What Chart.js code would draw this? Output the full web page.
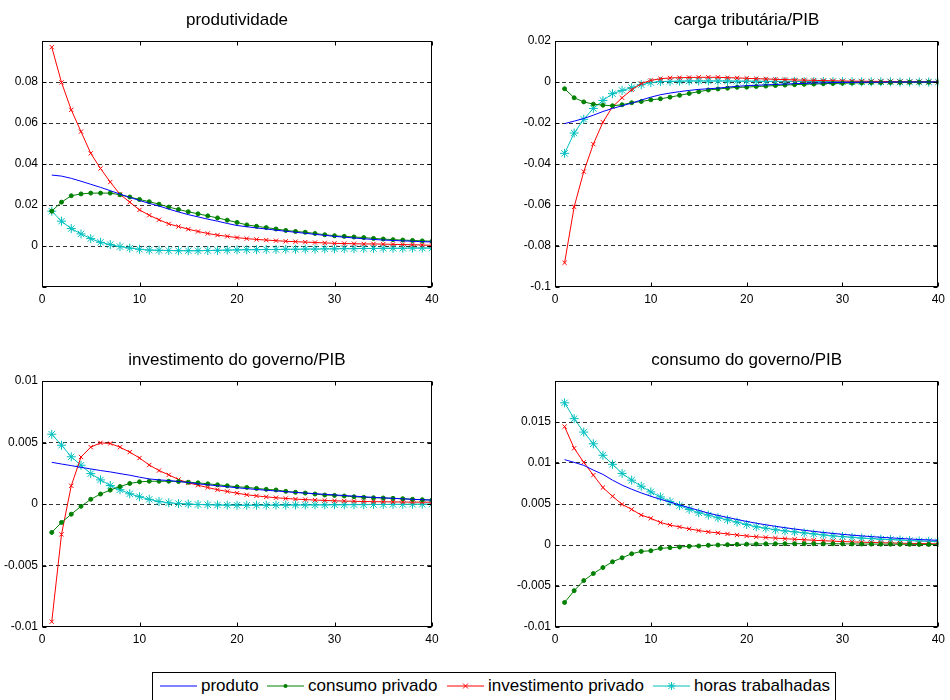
<!DOCTYPE html>
<html>
<head>
<meta charset="utf-8">
<script src="https://cdn.jsdelivr.net/npm/chart.js@4.4.0/dist/chart.umd.min.js"></script>
<style>
  body { margin: 0; background: #fff; width: 950px; height: 700px; overflow: hidden; position: relative;
         font-family: "Liberation Sans", Arial, sans-serif; }
  canvas { position: absolute; }
  #legenda { position: absolute; left: 152px; top: 672px; width: 684px; height: 34px;
             border: 1px solid #000; box-sizing: border-box; font-size: 17px; color: #000; white-space: nowrap; }
  #legenda .item { position: absolute; top: 3px; display: flex; align-items: center; }
  #legenda svg { margin-right: 4px; }
</style>
</head>
<body>
<canvas id="g1" width="460" height="310" style="left:0;top:0"></canvas>
<canvas id="g2" width="450" height="310" style="left:500px;top:0"></canvas>
<canvas id="g3" width="460" height="310" style="left:0;top:340px"></canvas>
<canvas id="g4" width="450" height="310" style="left:500px;top:340px"></canvas>
<div id="legenda"></div>
<script>
// periodos (trimestres)
const periodos = [1,2,3,4,5,6,7,8,9,10,11,12,13,14,15,16,17,18,19,20,21,22,23,24,25,26,27,28,29,30,31,32,33,34,35,36,37,38,39,40];
const nomes = ["produto", "consumo privado", "investimento privado", "horas trabalhadas"];

// choque: produtividade
const prodProduto = [0.0346,0.0341,0.0330,0.0316,0.0301,0.0286,0.0270,0.0253,0.0237,0.0222,0.0208,0.0195,0.0180,0.0166,0.0153,0.0142,0.0131,0.0121,0.0110,0.0100,0.0094,0.0088,0.0083,0.0077,0.0072,0.0067,0.0062,0.0057,0.0052,0.0047,0.0043,0.0039,0.0035,0.0032,0.0029,0.0027,0.0025,0.0023,0.0021,0.0020];
const prodConsumo = [0.0170,0.0214,0.0245,0.0254,0.0258,0.0258,0.0258,0.0250,0.0239,0.0227,0.0216,0.0204,0.0190,0.0178,0.0167,0.0157,0.0147,0.0137,0.0126,0.0115,0.0103,0.0096,0.0090,0.0083,0.0076,0.0071,0.0067,0.0061,0.0055,0.0050,0.0047,0.0044,0.0041,0.0037,0.0034,0.0031,0.0029,0.0027,0.0025,0.0023];
const prodInvest = [0.0970,0.0798,0.0664,0.0558,0.0452,0.0378,0.0312,0.0252,0.0214,0.0176,0.0150,0.0128,0.0108,0.0095,0.0082,0.0071,0.0061,0.0053,0.0047,0.0041,0.0036,0.0032,0.0029,0.0026,0.0023,0.0021,0.0019,0.0017,0.0015,0.0013,0.0012,0.0011,0.0010,0.0010,0.0009,0.0008,0.0007,0.0006,0.0005,0.0003];
const prodHoras = [0.0170,0.0121,0.0085,0.0059,0.0036,0.0018,0.0007,-0.0003,-0.0010,-0.0016,-0.0020,-0.0021,-0.0022,-0.0023,-0.0023,-0.0023,-0.0022,-0.0021,-0.0020,-0.0019,-0.0018,-0.0018,-0.0017,-0.0017,-0.0016,-0.0016,-0.0015,-0.0015,-0.0014,-0.0014,-0.0013,-0.0013,-0.0012,-0.0012,-0.0011,-0.0011,-0.0011,-0.0010,-0.0010,-0.0010];

// choque: carga tributaria/PIB
const cargaProduto = [-0.0203,-0.0191,-0.0178,-0.0162,-0.0144,-0.0129,-0.0116,-0.0103,-0.0088,-0.0074,-0.0062,-0.0054,-0.0047,-0.0041,-0.0036,-0.0033,-0.0030,-0.0025,-0.0021,-0.0018,-0.0016,-0.0014,-0.0012,-0.0010,-0.0008,-0.0007,-0.0005,-0.0004,-0.0003,-0.0002,-0.0002,-0.0001,-0.0001,-0.0001,0,0,0,0,0,0];
const cargaConsumo = [-0.0033,-0.0077,-0.0097,-0.0108,-0.0113,-0.0116,-0.0111,-0.0101,-0.0095,-0.0087,-0.0082,-0.0074,-0.0065,-0.0056,-0.0047,-0.0039,-0.0034,-0.0030,-0.0026,-0.0025,-0.0022,-0.0020,-0.0017,-0.0015,-0.0013,-0.0011,-0.0010,-0.0008,-0.0007,-0.0006,-0.0005,-0.0004,-0.0003,-0.0003,-0.0002,-0.0002,-0.0001,-0.0001,-0.0001,0];
const cargaInvest = [-0.0882,-0.0609,-0.0437,-0.0303,-0.0196,-0.0121,-0.0077,-0.0038,-0.0008,0.0008,0.0016,0.0020,0.0021,0.0022,0.0023,0.0023,0.0023,0.0021,0.0020,0.0018,0.0016,0.0015,0.0013,0.0012,0.0010,0.0009,0.0008,0.0007,0.0006,0.0005,0.0004,0.0004,0.0003,0.0003,0.0002,0.0002,0.0001,0.0001,0.0001,0];
const cargaHoras = [-0.0348,-0.0249,-0.0182,-0.0129,-0.0090,-0.0057,-0.0041,-0.0028,-0.0013,-0.0003,0.0002,0.0003,0.0004,0.0005,0.0005,0.0005,0.0005,0.0005,0.0004,0.0004,0.0004,0.0003,0.0003,0.0003,0.0003,0.0002,0.0002,0.0002,0.0002,0.0002,0.0001,0.0001,0.0001,0.0001,0.0001,0,0,0,0,0];

// choque: investimento do governo/PIB
const invgProduto = [0.00339,0.00325,0.00312,0.00298,0.00285,0.00272,0.00261,0.00247,0.00234,0.00218,0.00204,0.00196,0.00191,0.00183,0.00175,0.00164,0.00156,0.00148,0.00140,0.00132,0.00125,0.00118,0.00112,0.00106,0.00100,0.00094,0.00089,0.00084,0.00079,0.00074,0.00069,0.00064,0.00059,0.00054,0.00050,0.00046,0.00042,0.00038,0.00035,0.00032];
const invgConsumo = [-0.00231,-0.00150,-0.00083,-0.00019,0.00038,0.00081,0.00113,0.00142,0.00167,0.00180,0.00185,0.00185,0.00185,0.00183,0.00177,0.00172,0.00164,0.00156,0.00148,0.00140,0.00135,0.00127,0.00119,0.00114,0.00103,0.00095,0.00089,0.00081,0.00073,0.00070,0.00065,0.00059,0.00054,0.00051,0.00049,0.00046,0.00043,0.00038,0.00035,0.00032];
const invgInvest = [-0.00957,-0.00247,0.00148,0.00382,0.00462,0.00497,0.00492,0.00462,0.00422,0.00374,0.00317,0.00272,0.00237,0.00199,0.00172,0.00153,0.00134,0.00116,0.00102,0.00088,0.00075,0.00066,0.00058,0.00051,0.00045,0.00040,0.00036,0.00032,0.00029,0.00026,0.00024,0.00022,0.00020,0.00019,0.00018,0.00017,0.00016,0.00015,0.00015,0.00014];
const invgHoras = [0.00567,0.00478,0.00384,0.00315,0.00247,0.00196,0.00150,0.00116,0.00083,0.00059,0.00038,0.00020,0.00010,0.00003,0.00000,-0.00004,-0.00006,-0.00008,-0.00009,-0.00010,-0.00010,-0.00010,-0.00010,-0.00009,-0.00009,-0.00008,-0.00008,-0.00007,-0.00007,-0.00006,-0.00006,-0.00005,-0.00005,-0.00004,-0.00004,-0.00003,-0.00003,-0.00002,-0.00002,-0.00001];

// choque: consumo do governo/PIB
const consgProduto = [0.01041,0.01008,0.00971,0.00914,0.00861,0.00791,0.00730,0.00680,0.00635,0.00594,0.00557,0.00525,0.00488,0.00455,0.00422,0.00389,0.00361,0.00336,0.00311,0.00287,0.00266,0.00246,0.00228,0.00211,0.00195,0.00180,0.00166,0.00153,0.00141,0.00130,0.00120,0.00111,0.00102,0.00094,0.00087,0.00080,0.00073,0.00067,0.00062,0.00056];
const consgConsumo = [-0.00701,-0.00557,-0.00434,-0.00348,-0.00275,-0.00205,-0.00156,-0.00107,-0.00078,-0.00070,-0.00041,-0.00033,-0.00025,-0.00016,-0.00012,-0.00004,0.00000,0.00004,0.00008,0.00010,0.00012,0.00014,0.00015,0.00016,0.00016,0.00016,0.00016,0.00015,0.00015,0.00014,0.00013,0.00012,0.00011,0.00010,0.00010,0.00009,0.00008,0.00007,0.00006,0.00005];
const consgInvest = [0.01443,0.01180,0.01008,0.00852,0.00701,0.00594,0.00496,0.00434,0.00365,0.00325,0.00275,0.00243,0.00220,0.00197,0.00176,0.00160,0.00148,0.00135,0.00122,0.00110,0.00100,0.00092,0.00084,0.00077,0.00070,0.00064,0.00058,0.00052,0.00047,0.00042,0.00038,0.00034,0.00031,0.00028,0.00025,0.00022,0.00020,0.00018,0.00016,0.00014];
const consgHoras = [0.01734,0.01541,0.01377,0.01234,0.01094,0.00984,0.00873,0.00791,0.00717,0.00648,0.00586,0.00529,0.00480,0.00434,0.00393,0.00365,0.00332,0.00307,0.00279,0.00250,0.00222,0.00205,0.00186,0.00172,0.00160,0.00148,0.00135,0.00123,0.00111,0.00102,0.00094,0.00084,0.00078,0.00071,0.00066,0.00061,0.00054,0.00049,0.00045,0.00040];

// rotulos do eixo y de cada painel
const rotulosY1 = [0, 0.02, 0.04, 0.06, 0.08];
const rotulosY2 = [-0.1, -0.08, -0.06, -0.04, -0.02, 0, 0.02];
const rotulosY3 = [-0.01, -0.005, 0, 0.005, 0.01];
const rotulosY4 = [-0.01, -0.005, 0, 0.005, 0.01, 0.015];
const rotulosX = [0, 10, 20, 30, 40];

const cores = ["#0000ff", "#008000", "#ff0000", "#00bfbf"];
const marcas = [false, "circle", "crossRot", "star"];
const raios = [0, 2, 3, 4.5];
const fonte = "'Liberation Sans', Arial, sans-serif";

// caixa fechada + tiques para dentro (estilo matlab)
const caixa = {
  id: "caixa",
  afterDraw(chart) {
    const c = chart.ctx, a = chart.chartArea;
    const l = Math.round(a.left) + 0.5, r = Math.round(a.right) - 0.5;
    const t = Math.round(a.top) + 0.5, b = Math.round(a.bottom) - 0.5;
    c.save();
    c.strokeStyle = "#000";
    c.lineWidth = 1;
    c.strokeRect(l, t, r - l, b - t);
    c.beginPath();
    chart.scales.x.ticks.forEach(tk => {
      const px = Math.round(chart.scales.x.getPixelForValue(tk.value)) + 0.5;
      c.moveTo(px, t); c.lineTo(px, t + 4);
      c.moveTo(px, b); c.lineTo(px, b - 4);
    });
    chart.scales.y.ticks.forEach(tk => {
      const py = Math.round(chart.scales.y.getPixelForValue(tk.value)) + 0.5;
      c.moveTo(l, py); c.lineTo(l + 4, py);
      c.moveTo(r, py); c.lineTo(r - 4, py);
    });
    c.stroke();
    c.restore();
  }
};

function perto(a, b) { return Math.abs(a - b) < 1e-9; }

function painel(id, titulo, series, yMin, yMax, passo, rotulosY, largY, dir) {
  const datasets = series.map((s, k) => ({
    label: nomes[k],
    data: periodos.map((p, i) => ({ x: p, y: s[i] })),
    borderColor: cores[k],
    backgroundColor: cores[k],
    borderWidth: 1,
    pointStyle: marcas[k],
    pointRadius: raios[k],
    pointBorderWidth: 1,
    pointBorderColor: cores[k],
    pointBackgroundColor: cores[k],
    tension: 0
  }));

  new Chart(document.getElementById(id), {
    type: "line",
    data: { datasets: datasets },
    options: {
      responsive: false,
      animation: false,
      layout: { padding: { left: 0, right: dir, top: 0, bottom: 0 } },
      plugins: {
        legend: { display: false },
        tooltip: { enabled: false },
        title: {
          display: true, text: titulo, fullSize: false, color: "#000",
          font: { family: fonte, size: 17, weight: "normal" },
          padding: { top: 10, bottom: 10.6 }
        }
      },
      scales: {
        x: {
          type: "linear", min: 0, max: 40,
          afterBuildTicks: sc => { sc.ticks = rotulosX.map(v => ({ value: v })); },
          afterFit: sc => { sc.height = 23; },
          grid: { display: false, drawTicks: false },
          border: { display: false },
          ticks: { color: "#000", padding: 5, maxRotation: 0, font: { family: fonte, size: 12 } }
        },
        y: {
          min: yMin, max: yMax,
          ticks: {
            stepSize: passo, color: "#000", padding: 4,
            font: { family: fonte, size: 12 },
            callback: v => rotulosY.some(r => perto(r, v)) ? String(parseFloat(v.toFixed(4))) : ""
          },
          afterFit: sc => { sc.width = largY; },
          grid: {
            drawTicks: false, lineWidth: 1,
            color: c => (perto(c.tick.value, yMin) || perto(c.tick.value, yMax)) ? "rgba(0,0,0,0)" : "#333"
          },
          border: { display: false, dash: [4, 3] }
        }
      }
    },
    plugins: [caixa]
  });
}

painel("g1", "produtividade", [prodProduto, prodConsumo, prodInvest, prodHoras], -0.02, 0.1, 0.02, rotulosY1, 42, 28);
painel("g2", "carga tributária/PIB", [cargaProduto, cargaConsumo, cargaInvest, cargaHoras], -0.1, 0.02, 0.02, rotulosY2, 55, 4);
painel("g3", "investimento do governo/PIB", [invgProduto, invgConsumo, invgInvest, invgHoras], -0.01, 0.01, 0.005, rotulosY3, 42, 28);
painel("g4", "consumo do governo/PIB", [consgProduto, consgConsumo, consgInvest, consgHoras], -0.01, 0.02, 0.005, rotulosY4, 55, 4);

// legenda comum
const posLegenda = [7, 114, 294, 500];
const leg = document.getElementById("legenda");
nomes.forEach((n, k) => {
  const it = document.createElement("div");
  it.className = "item";
  it.style.left = posLegenda[k] + "px";
  let m = "";
  if (marcas[k] === "circle") m = '<circle cx="18.5" cy="9" r="2" fill="' + cores[k] + '"/>';
  if (marcas[k] === "crossRot") m = '<path d="M16 6.5 L21 11.5 M21 6.5 L16 11.5" stroke="' + cores[k] + '"/>';
  if (marcas[k] === "star") m = '<path d="M18.5 5 V13 M14.5 9 H22.5 M15.5 6 L21.5 12 M21.5 6 L15.5 12" stroke="' + cores[k] + '"/>';
  it.innerHTML = '<svg width="37" height="18"><line x1="0" y1="9" x2="37" y2="9" stroke="' + cores[k] + '"/>' + m + '</svg><span>' + n + '</span>';
  leg.appendChild(it);
});
</script>
</body>
</html>
